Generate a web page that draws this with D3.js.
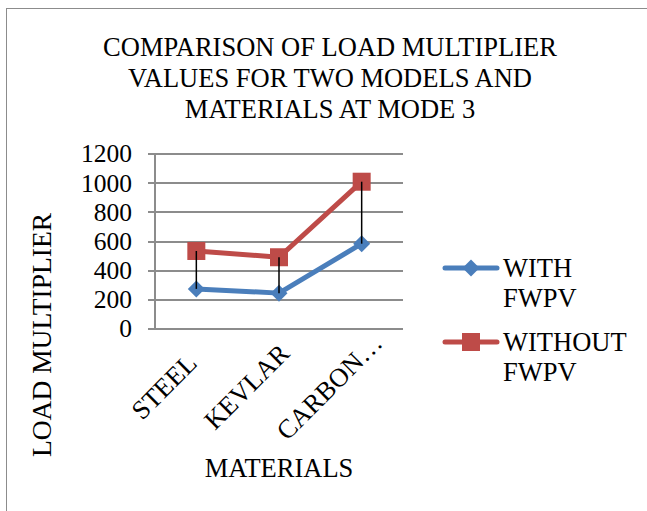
<!DOCTYPE html>
<html>
<head>
<meta charset="utf-8">
<script src="https://cdn.jsdelivr.net/npm/d3@7"></script>
<style>
  body { margin: 0; background: #fff; }
  svg text { fill: #000; }
</style>
</head>
<body>
<div id="chart"></div>
<script>
const categories = ['STEEL', 'KEVLAR', 'CARBON…']
const withFwpv = [275, 246, 585]
const withoutFwpv = [535, 492, 1010]
const yTicks = [0, 200, 400, 600, 800, 1000, 1200]
const titleLines = ['COMPARISON OF LOAD MULTIPLIER', 'VALUES FOR TWO MODELS AND', 'MATERIALS AT MODE 3']

const width = 647, height = 511
const fontSize = 26.5
const svg = d3.select('#chart').append('svg')
  .attr('width', width)
  .attr('height', height)
  .style('font-family', '"Liberation Serif", Tinos, "Times New Roman", "DejaVu Serif", serif')

// outer frame
svg.append('rect')
  .attr('x', 6.5).attr('y', 8.5)
  .attr('width', 650).attr('height', 510)
  .attr('fill', 'none')
  .attr('stroke', '#8c8c8c')

const plot = { left: 155, right: 403, top: 154, bottom: 329 }

const x = d3.scaleBand()
  .domain(categories)
  .range([plot.left, plot.right])

const y = d3.scaleLinear()
  .domain([0, 1200])
  .range([plot.bottom, plot.top])

const cx = d => x(d) + x.bandwidth() / 2

// gridlines
svg.append('g')
  .selectAll('line')
  .data(yTicks)
  .join('line')
  .attr('x1', plot.left - 7)
  .attr('x2', plot.right)
  .attr('y1', d => Math.round(y(d)))
  .attr('y2', d => Math.round(y(d)))
  .attr('stroke', '#8c8c8c')
  .attr('stroke-width', 2)

// y axis line
svg.append('line')
  .attr('x1', plot.left).attr('x2', plot.left)
  .attr('y1', plot.top - 1).attr('y2', plot.bottom + 1)
  .attr('stroke', '#8c8c8c')
  .attr('stroke-width', 2)

// y tick labels
svg.append('g')
  .selectAll('text')
  .data(yTicks)
  .join('text')
  .attr('x', plot.left - 23)
  .attr('y', d => y(d))
  .attr('dy', '0.33em')
  .attr('text-anchor', 'end')
  .attr('font-size', 25.5)
  .text(d => d)

// x tick labels, rotated
svg.append('g')
  .selectAll('text')
  .data(categories)
  .join('text')
  .attr('transform', d => 'translate(' + (cx(d) - 26) + ',' + (plot.bottom + 64) + ') rotate(-45)')
  .attr('text-anchor', 'middle')
  .attr('font-size', fontSize)
  .text(d => d)

const line = d3.line()
  .x((d, i) => cx(categories[i]))
  .y(d => y(d))

const series = [
  { name: ['WITH', 'FWPV'], values: withFwpv, color: '#4a7ebb', marker: 'diamond' },
  { name: ['WITHOUT', 'FWPV'], values: withoutFwpv, color: '#be4b48', marker: 'square' }
]

function drawMarker(g, type, color) {
  if (type === 'diamond') {
    g.append('path')
      .attr('d', 'M0,-8.5L8.5,0L0,8.5L-8.5,0Z')
      .attr('fill', color)
  } else {
    g.append('rect')
      .attr('x', -9).attr('y', -9)
      .attr('width', 18).attr('height', 18)
      .attr('fill', color)
  }
}

series.forEach(s => {
  svg.append('path')
    .attr('d', line(s.values))
    .attr('fill', 'none')
    .attr('stroke', s.color)
    .attr('stroke-width', 5)
    .attr('stroke-linejoin', 'round')

  s.values.forEach((v, i) => {
    const g = svg.append('g')
      .attr('transform', 'translate(' + cx(categories[i]) + ',' + y(v) + ')')
    drawMarker(g, s.marker, s.color)
  })
})

// high-low lines drawn over the markers
svg.append('g')
  .selectAll('line')
  .data(categories)
  .join('line')
  .attr('x1', d => cx(d))
  .attr('x2', d => cx(d))
  .attr('y1', (d, i) => y(withFwpv[i]))
  .attr('y2', (d, i) => y(withoutFwpv[i]))
  .attr('stroke', '#000')
  .attr('stroke-width', 1.5)

// legend
const legendY = [268, 342]
series.forEach((s, i) => {
  const g = svg.append('g').attr('transform', 'translate(0,' + legendY[i] + ')')
  g.append('line')
    .attr('x1', 445).attr('x2', 497)
    .attr('y1', 0).attr('y2', 0)
    .attr('stroke', s.color)
    .attr('stroke-width', 5)
    .attr('stroke-linecap', 'round')
  const m = g.append('g').attr('transform', 'translate(471,0)')
  drawMarker(m, s.marker, s.color)
  g.selectAll('text')
    .data(s.name)
    .join('text')
    .attr('x', 503)
    .attr('y', (d, j) => 9 + j * 30)
    .attr('font-size', fontSize)
    .text(d => d)
})

// title
svg.append('g')
  .selectAll('text')
  .data(titleLines)
  .join('text')
  .attr('x', 330)
  .attr('y', (d, i) => 56 + i * 31)
  .attr('text-anchor', 'middle')
  .attr('font-size', fontSize)
  .text(d => d)

// axis titles
svg.append('text')
  .attr('transform', 'translate(51,335) rotate(-90)')
  .attr('text-anchor', 'middle')
  .attr('font-size', 27.5)
  .text('LOAD MULTIPLIER')

svg.append('text')
  .attr('x', 279)
  .attr('y', 477)
  .attr('text-anchor', 'middle')
  .attr('font-size', fontSize)
  .text('MATERIALS')
</script>
</body>
</html>
